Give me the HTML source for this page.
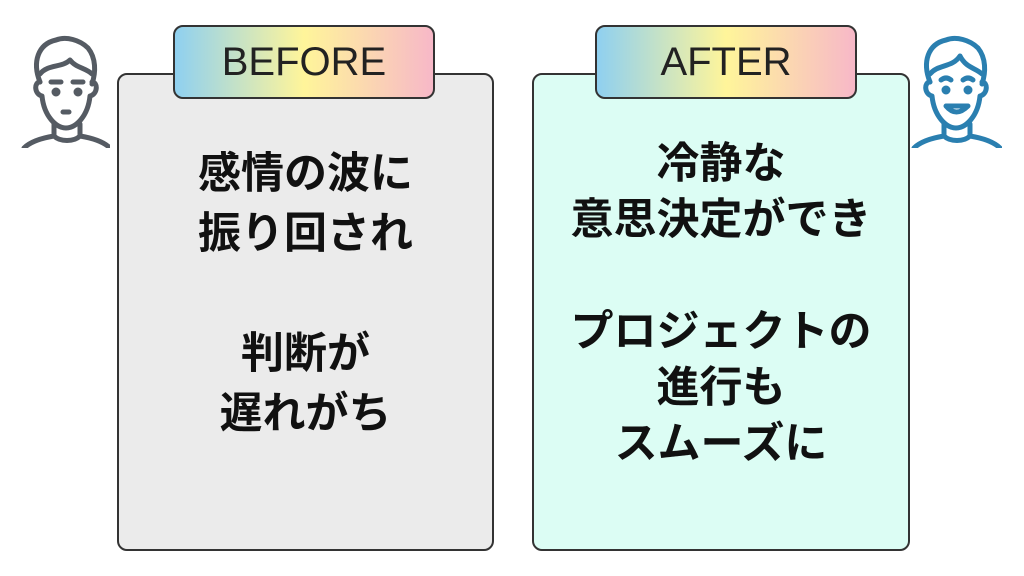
<!DOCTYPE html>
<html><head><meta charset="utf-8"><style>
body{margin:0;width:1024px;height:576px;background:#fff;position:relative;overflow:hidden;font-family:"Liberation Sans","Noto Sans CJK JP",sans-serif}
.box{position:absolute;top:73px;height:478px;border:2px solid #333;border-radius:10px;box-sizing:border-box}
.lab{position:absolute;top:25px;width:262px;height:74px;border:2px solid #333;border-radius:10px;box-sizing:border-box;background:linear-gradient(90deg,#8fd0f0,#fff59a 50%,#f7b8c8);font-size:40px;color:#222;text-align:center;line-height:70px}
.t{position:absolute;text-align:center;font-weight:bold;font-size:43px;color:#111;font-family:"Noto Sans CJK JP",sans-serif}
</style></head><body>
<div class="box" style="left:117px;width:377px;background:#ebebeb"></div>
<div class="box" style="left:532px;width:378px;background:#dcfdf4"></div>
<div class="lab" style="left:173px">BEFORE</div>
<div class="lab" style="left:595px">AFTER</div>
<div class="t" style="left:117px;width:377px;top:140px;line-height:60px">感情の波に<br>振り回され<br><br>判断が<br>遅れがち</div>
<div class="t" style="left:532px;width:378px;top:132px;line-height:56px">冷静な<br>意思決定ができ<br><br>プロジェクトの<br>進行も<br>スムーズに</div>
<svg style="position:absolute;left:18px;top:32px" width="92" height="116" viewBox="0 0 92 116" fill="none" stroke="#555b63" stroke-width="5" stroke-linecap="round" stroke-linejoin="round">
<path d="M22 50 C14 30 20 12 38 8 C48 4 62 8 70 16 C78 26 78 40 74 52"/>
<path d="M22 42 C30 32 44 36 52 28 C58 36 68 36 74 42"/>
<path d="M22 50 C16 50 16 62 24 64 C26 84 38 96 48 96 C58 96 70 84 72 64 C80 62 80 50 74 50"/>
<circle cx="38" cy="60" r="2" fill="#555b63"/><circle cx="60" cy="60" r="2" fill="#555b63"/>
<path d="M33 50 h10 M55 50 h10 M45 80 h6"/>
<path d="M36 92 v12 c-12 2 -24 6 -30 12 M62 92 v12 c12 2 24 6 30 12 M36 104 c6 6 20 6 26 0"/>
</svg>
<svg style="position:absolute;left:906px;top:32px" width="96" height="116" viewBox="0 0 92 116" fill="none" stroke="#2a7fb0" stroke-width="5" stroke-linecap="round" stroke-linejoin="round">
<path d="M22 50 C14 30 20 12 38 8 C48 4 62 8 70 16 C78 26 78 40 74 52"/>
<path d="M22 42 C30 32 44 36 52 24 C58 36 68 36 74 42"/>
<path d="M22 50 C16 50 16 62 24 64 C26 84 38 96 48 96 C58 96 70 84 72 64 C80 62 80 50 74 50"/>
<circle cx="38" cy="58" r="2" fill="#2a7fb0"/><circle cx="60" cy="58" r="2" fill="#2a7fb0"/>
<path d="M33 48 q5 -4 10 0 M55 48 q5 -4 10 0 M38 74 q10 12 22 0 z"/>
<path d="M36 92 v12 c-12 2 -24 6 -30 12 M62 92 v12 c12 2 24 6 30 12 M36 104 c6 6 20 6 26 0"/>
</svg>
</body></html>
